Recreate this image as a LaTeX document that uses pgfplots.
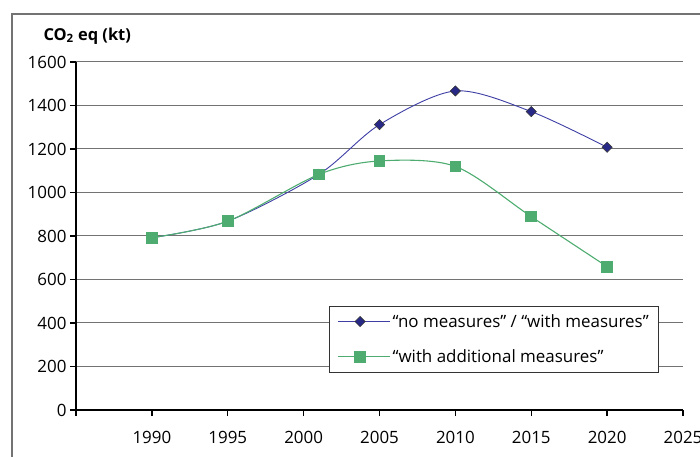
\documentclass[border=0pt]{standalone}
\usepackage{pgfplots}
\pgfplotsset{compat=1.18}
\usepackage{fontspec}
\setmainfont{Open Sans}
\definecolor{bl}{RGB}{62,62,165}
\definecolor{blm}{RGB}{40,40,135}
\definecolor{gr}{RGB}{78,172,112}
\begin{document}
\begin{tikzpicture}[font=\fontsize{17}{20}\selectfont]
\useasboundingbox (-76bp,-47bp) rectangle (624bp,410bp);
\draw[black!55, line width=1.2bp] (-64bp,-60bp) -- (-64bp,396bp) -- (640bp,396bp);
\begin{axis}[
  scale only axis, width=607bp, height=348bp,
  xmin=1985, xmax=2025, ymin=0, ymax=1600,
  xtick={1985,1990,...,2025},
  xticklabels={{},1990,1995,2000,2005,2010,2015,2020,2025},
  ytick={0,200,...,1600},
  axis x line*=bottom, axis y line*=left,
  axis line style={-, black, line width=1.8bp},
  ymajorgrids, major grid style={black!55, line width=1bp},
  tick align=outside, major tick length=6bp,
  tick style={black, line width=1.3bp},
  yticklabel style={/pgf/number format/assume math mode=true, /pgf/number format/1000 sep={}},
  xticklabel style={yshift=-12bp},
  legend style={at={(rel axis cs:0.417,0.299)}, anchor=north west, draw=black!80, line width=0.8bp,
    inner xsep=8bp, inner ysep=6bp, row sep=17bp, cells={anchor=west}},
  legend cell align=left,
  legend image code/.code={\path (0bp,0bp) -- (52bp,0bp);\draw[mark repeat=2, mark phase=2] plot coordinates {(0bp,0bp) (22bp,0bp) (45bp,0bp)};},
]
\addplot[color=bl, line width=0.9bp, smooth, mark=square*, mark size=3.6bp,
  mark options={rotate=45, fill=blm, draw=black!80, line width=0.6bp}]
  coordinates {(1990,792)(1995,868)(2001,1083)(2005,1312)(2010,1467)(2015,1372)(2020,1208)};
\addlegendentry{“no measures” / “with measures”}
\addplot[color=gr, line width=1.1bp, smooth, mark=square*, mark size=5.3bp,
  mark options={fill=gr, draw=gr}]
  coordinates {(1990,792)(1995,868)(2001,1083)(2005,1145)(2010,1120)(2015,889)(2020,659)};
\addlegendentry{“with additional measures”}
\end{axis}
\node[anchor=west, font=\fontsize{16.5}{19}\selectfont\bfseries] at (-36bp,374bp) {CO\textsubscript{2} eq (kt)};
\end{tikzpicture}
\end{document}
